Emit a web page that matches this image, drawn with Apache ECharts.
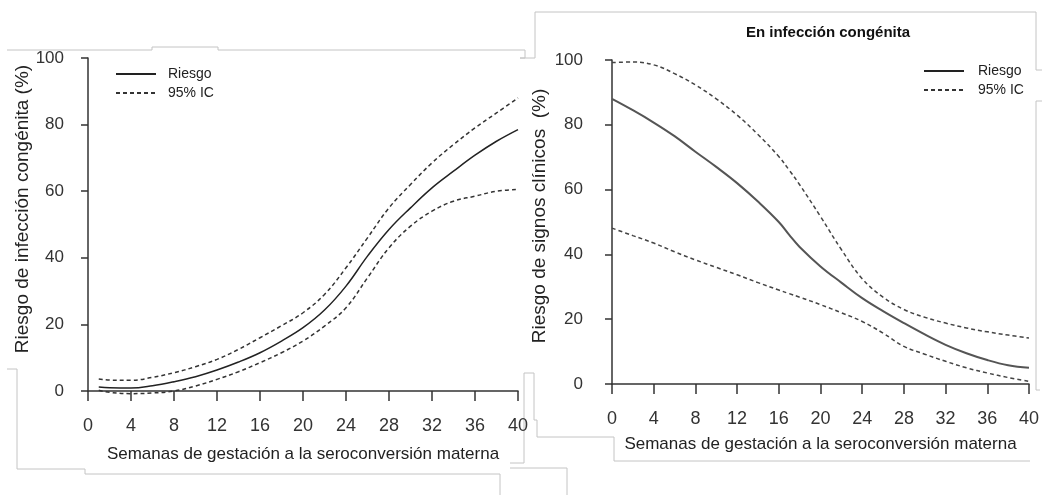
<!DOCTYPE html>
<html>
<head>
<meta charset="utf-8">
<script src="https://cdn.jsdelivr.net/npm/echarts@6/dist/echarts.min.js"></script>
<style>
  html, body { margin: 0; padding: 0; background: #fff; }
  #chart { width: 1042px; height: 495px; }
</style>
</head>
<body>
<div id="chart"></div>
<script>
// left panel: riesgo de infección congénita
const weeksLeft = [1, 2, 4, 6, 8, 10, 12, 14, 16, 18, 20, 22, 24, 26, 28, 30, 32, 34, 36, 38, 40];
const riesgoLeft = [1.2, 1.0, 0.9, 1.6, 2.8, 4.3, 6.3, 8.7, 11.5, 15, 19, 24.3, 31.5, 40.5, 48.5, 55, 61, 66, 70.8, 75, 78.5];
const upperLeft = [3.6, 3.3, 3.2, 4.1, 5.5, 7.3, 9.5, 12.5, 16, 19.6, 23.5, 29, 37, 46, 55, 62, 68.5, 74, 79, 83.5, 88];
const lowerLeft = [0.2, -0.4, -0.8, -0.6, 0, 1.5, 3.5, 5.8, 8.5, 11.5, 15, 19.5, 25, 34, 43, 49.5, 54, 57, 58.5, 60, 60.5];

// right panel: riesgo de signos clínicos
const weeksRight = [0, 2, 4, 6, 8, 10, 12, 14, 16, 17, 18, 20, 22, 24, 26, 28, 30, 32, 34, 36, 38, 40];
const riesgoRight = [88, 84.5, 80.7, 76.5, 71.7, 67, 62, 56.3, 50, 46, 42.3, 36.3, 31.3, 26.5, 22.5, 18.8, 15.3, 12.1, 9.5, 7.4, 5.8, 5];
const upperRight = [99.2, 99.4, 98.5, 95.8, 92.3, 88, 83, 77, 70.2, 66, 61.5, 51.7, 41.5, 32.5, 26.8, 23, 20.6, 18.8, 17.3, 16.1, 15.1, 14.2];
const lowerRight = [48.1, 45.8, 43.5, 40.8, 38.3, 36, 33.7, 31.3, 29, 27.9, 26.8, 24.5, 22, 19.3, 15.7, 11.6, 9.2, 7, 5, 3.4, 2, 0.8];

const xTicks = [0, 40, 4];   // min, max, interval
const yTicks = [0, 100, 20];
const xTitle = 'Semanas de gestación a la seroconversión materna';

const FONT = 'Liberation Sans, Arial, sans-serif';
const pairs = (xs, ys) => xs.map((x, i) => [x, ys[i]]);

function xAxisFor(idx, offset, margin, gap) {
  return {
    type: 'value', gridIndex: idx, min: xTicks[0], max: xTicks[1], interval: xTicks[2],
    offset: offset,
    axisLine: { lineStyle: { color: '#333', width: 1.5 } },
    axisTick: { length: 10, lineStyle: { color: '#333', width: 1.5 } },
    axisLabel: { fontSize: 18, color: '#333', margin: margin, fontFamily: FONT },
    splitLine: { show: false },
    name: xTitle, nameLocation: 'middle', nameGap: gap,
    nameTextStyle: { fontSize: 17, color: '#222', fontFamily: FONT }
  };
}
function yAxisFor(idx, offset) {
  return {
    type: 'value', gridIndex: idx, min: yTicks[0], max: yTicks[1], interval: yTicks[2],
    offset: offset,
    axisLine: { show: true, lineStyle: { color: '#333', width: 1.5 } },
    axisTick: { show: true, length: 7, lineStyle: { color: '#333', width: 1.5 } },
    axisLabel: { fontSize: 17, color: '#333', margin: 15, fontFamily: FONT },
    splitLine: { show: false }
  };
}
function lineSeries(name, idx, data, color, width, dashed) {
  return {
    name: name, type: 'line', xAxisIndex: idx, yAxisIndex: idx,
    data: data, smooth: 0.4, symbol: 'none', clip: false,
    lineStyle: { color: color, width: width, type: dashed ? [4, 3] : 'solid' },
    itemStyle: { color: color }
  };
}

const boxColor = '#c4c4c4';
const box = (pts) => ({
  type: 'polyline', silent: true,
  shape: { points: pts },
  style: { stroke: boxColor, lineWidth: 1, fill: null }
});

const legendFor = (left, top, pad) => ({
  left: left, top: top, orient: 'vertical', itemWidth: 40, itemHeight: 14, itemGap: 5,
  data: ['Riesgo', '95% IC'],
  itemStyle: { opacity: 0 },
  textStyle: { fontSize: 14, color: '#222', padding: [0, 0, 0, pad] }
});

const chart = echarts.init(document.getElementById('chart'));
chart.setOption({
  animation: false,
  textStyle: { fontFamily: FONT },
  title: {
    text: 'En infección congénita', left: 823, top: 20, textAlign: 'center',
    textStyle: { fontSize: 15, fontWeight: 'bold', color: '#111', fontFamily: FONT }
  },
  legend: [legendFor(110, 62, 7), legendFor(918, 59, 9)],
  grid: [
    { left: 88, top: 58, width: 430, height: 333 },
    { left: 612, top: 60, width: 422, height: 324 }
  ],
  xAxis: [xAxisFor(0, 8, 18, 47), xAxisFor(1, 9, 17, 43)],
  yAxis: [yAxisFor(0, 9), yAxisFor(1, 14)],
  series: [
    lineSeries('Riesgo', 0, pairs(weeksLeft, riesgoLeft), '#222', 1.5, false),
    lineSeries('95% IC', 0, pairs(weeksLeft, upperLeft), '#333', 1.5, true),
    lineSeries('95% IC', 0, pairs(weeksLeft, lowerLeft), '#333', 1.5, true),
    lineSeries('Riesgo', 1, pairs(weeksRight, riesgoRight), '#555', 2, false),
    lineSeries('95% IC', 1, pairs(weeksRight, upperRight), '#444', 1.5, true),
    lineSeries('95% IC', 1, pairs(weeksRight, lowerRight), '#444', 1.5, true)
  ],
  graphic: [
    {
      type: 'text', x: 23, y: 209, rotation: Math.PI / 2,
      style: { text: 'Riesgo de infección congénita (%)', fill: '#222', align: 'center', verticalAlign: 'middle', font: '19px ' + FONT }
    },
    {
      type: 'text', x: 540, y: 216, rotation: Math.PI / 2,
      style: { text: 'Riesgo de signos clínicos  (%)', fill: '#222', align: 'center', verticalAlign: 'middle', font: '19px ' + FONT }
    },
    box([[7, 50], [152, 50], [152, 47], [218, 47], [218, 50], [525, 50], [525, 58], [520, 58], [535, 58], [535, 12], [1036, 12], [1036, 70], [1042, 70]]),
    box([[1042, 101], [1036, 101], [1036, 390], [1040, 390]]),
    box([[7, 369], [17, 369], [17, 469], [85, 469], [85, 474], [500, 474], [500, 495]]),
    box([[510, 463], [524, 463], [524, 373], [534, 373], [534, 420], [537, 420], [537, 437], [614, 437], [614, 461], [1030, 461]]),
    box([[510, 468], [567, 468], [567, 495]])
  ]
});
</script>
</body>
</html>
